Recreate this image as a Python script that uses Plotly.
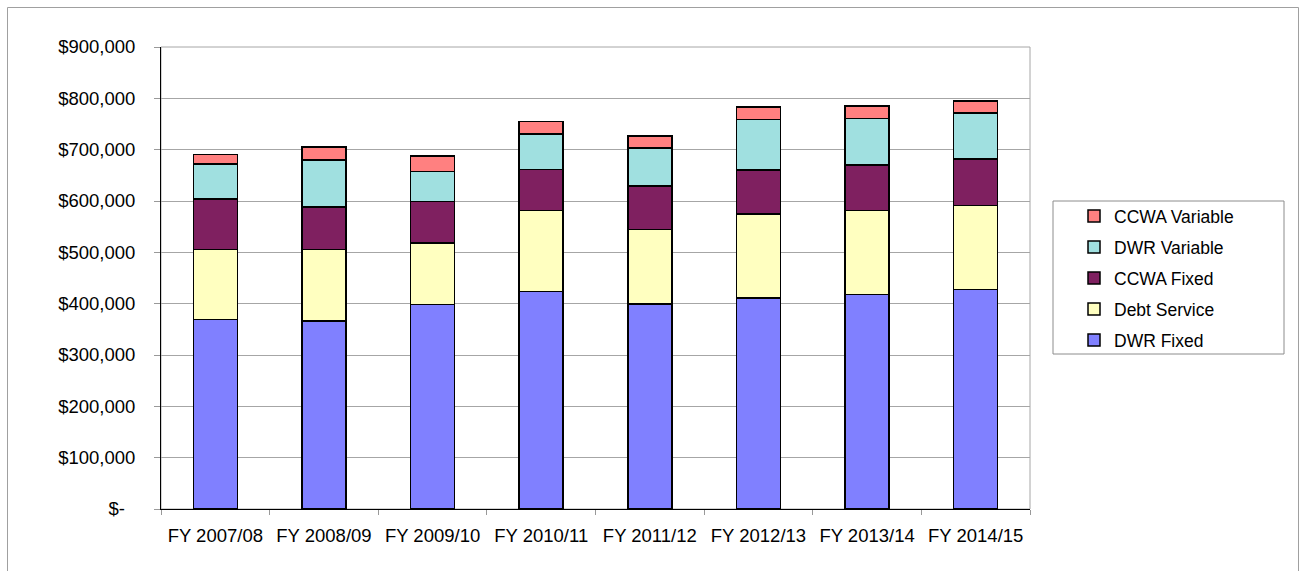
import plotly.graph_objects as go

# Fiscal years on the category axis
years = ["FY 2007/08", "FY 2008/09", "FY 2009/10", "FY 2010/11",
         "FY 2011/12", "FY 2012/13", "FY 2013/14", "FY 2014/15"]

# Cost components (dollars), stacked bottom to top
dwr_fixed = [369000, 366400, 398200, 423500, 399400, 411100, 417600, 427400]
debt_service = [136800, 138800, 119900, 157600, 144700, 163400, 164100, 164000]
ccwa_fixed = [97900, 83000, 80500, 80400, 84900, 85600, 88900, 90200]
dwr_variable = [68100, 91400, 59000, 69400, 73900, 98700, 90100, 89500]
ccwa_variable = [18900, 26000, 29800, 24000, 24100, 23900, 23900, 23300]

# Y-axis tick values and their accounting-style labels
y_ticks = [0, 100000, 200000, 300000, 400000, 500000, 600000, 700000, 800000, 900000]
y_tick_labels = ["$-\u00a0\u00a0", "$100,000", "$200,000", "$300,000", "$400,000",
                 "$500,000", "$600,000", "$700,000", "$800,000", "$900,000"]

series = [
    ("DWR Fixed", dwr_fixed, "#8080FF"),
    ("Debt Service", debt_service, "#FFFFC0"),
    ("CCWA Fixed", ccwa_fixed, "#7F2060"),
    ("DWR Variable", dwr_variable, "#A0E0E0"),
    ("CCWA Variable", ccwa_variable, "#FF8080"),
]

FONT = "Liberation Sans, Arial, sans-serif"

fig = go.Figure()
n = len(series)
for i, (name, vals, color) in enumerate(series):
    fig.add_trace(go.Bar(
        x=years, y=vals, name=name, legendgroup=name,
        legendrank=n - i,  # top segment listed first in the legend
        marker=dict(color=color, line=dict(color="black", width=1.5)),
    ))

W, H = 1300, 571
L, R, T, B = 161, 270, 47, 62
pw, ph = W - L - R, H - T - B


def px_x(p):
    return (p - L) / pw


def px_y(p):
    return (H - B - p) / ph


fig.update_layout(
    width=W, height=H,
    margin=dict(l=L, r=R, t=T, b=B, pad=0),
    barmode="stack",
    bargap=0.595,
    paper_bgcolor="white",
    plot_bgcolor="white",
    font=dict(family=FONT, size=18, color="black"),
    showlegend=True,
    legend=dict(
        traceorder="grouped",
        tracegroupgap=5.3,
        x=px_x(1074), xanchor="left",
        y=px_y(198), yanchor="top",
        bgcolor="rgba(0,0,0,0)",
        borderwidth=0,
        font=dict(family=FONT, size=17.5, color="black"),
    ),
    xaxis=dict(
        type="category",
        showline=True, linecolor="black", linewidth=1,
        ticks="outside", tickson="boundaries", ticklen=5,
        tickcolor="#999999", tickwidth=1,
        ticklabelstandoff=10,
        showgrid=False,
        tickfont=dict(family=FONT, size=18.5, color="black"),
    ),
    yaxis=dict(
        range=[0, 900000],
        tickvals=y_ticks, ticktext=y_tick_labels,
        showline=True, linecolor="black", linewidth=1,
        ticks="outside", ticklen=6, tickcolor="#999999", tickwidth=1,
        ticklabelstandoff=15,
        showgrid=True, gridcolor="#A6A6A6", gridwidth=1,
        zeroline=False,
        tickfont=dict(family=FONT, size=18.5, color="black"),
    ),
    shapes=[
        # plot-area frame
        dict(type="rect", xref="paper", yref="paper", x0=0, x1=1, y0=0, y1=1,
             line=dict(color="#A6A6A6", width=1), layer="below"),
        # legend box
        dict(type="rect", xref="paper", yref="paper",
             x0=px_x(1053), x1=px_x(1284), y0=px_y(354), y1=px_y(201),
             line=dict(color="#8C8C8C", width=1), layer="below"),
        # chart-area border
        dict(type="rect", xref="paper", yref="paper",
             x0=px_x(7.5), x1=px_x(1298.5), y0=px_y(580), y1=px_y(7.5),
             line=dict(color="#A0A0A0", width=1), layer="below"),
    ],
)

fig.write_html("out.html")
